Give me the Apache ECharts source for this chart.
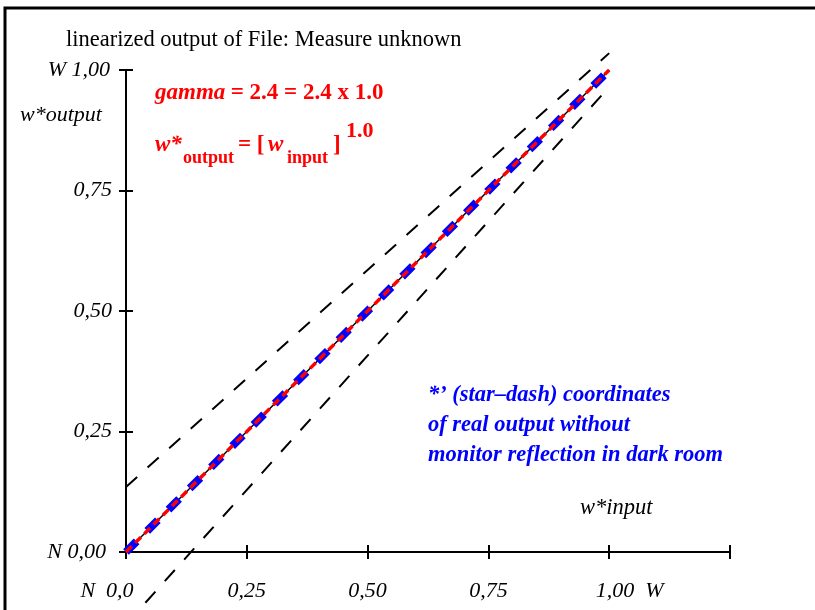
<!DOCTYPE html>
<html>
<head>
<meta charset="utf-8">
<script src="https://cdn.jsdelivr.net/npm/echarts@6/dist/echarts.min.js"></script>
<style>
    html, body { margin: 0; padding: 0; background: #fff; }
    #chart { width: 815px; height: 610px; }
</style>
</head>
<body>
<div id="chart"></div>
<script>
// data
const xTickLabels = ['N  0,0', '0,25', '0,50', '0,75', '1,00  W', '']
const yTickLabels = ['N 0,00', '0,25', '0,50', '0,75', 'W 1,00']
const idealLine = [[0, 0], [1, 1]]
const outputLine = [[0, 0], [1, 1]]
const measuredLine = [[0, 0], [1, 1]]
const upperLimit = [[0, 0.135], [1, 1.035]]
const lowerLimit = [[0, -0.15], [1, 0.965]]

const serif = 'Liberation Serif'

{
    let view = document.getElementById('chart')
    let chart = echarts.init(view)

    let tickIndex = v => Math.round(v / 0.25)
    let lbl = { fontFamily: serif, fontStyle: 'italic', fontSize: 22, color: '#000' }

    let option = {
        animation: false,
        backgroundColor: '#fff',
        grid: { left: 126, right: 85, top: 70, bottom: 58 },
        xAxis: [{
            type: 'value', min: 0, max: 1.25, interval: 0.25, position: 'bottom',
            axisLine: { lineStyle: { color: '#000', width: 2 } },
            axisTick: { length: 7, lineStyle: { color: '#000', width: 2 } },
            splitLine: { show: false },
            axisLabel: Object.assign({
                margin: 28,
                formatter: v => {
                    let i = tickIndex(v)
                    if (i === 0) return '{n|' + xTickLabels[i] + '}'
                    if (i === 4) return '{w|' + xTickLabels[i] + '}'
                    return xTickLabels[i]
                },
                rich: {
                    n: Object.assign({ padding: [0, 38, 0, 0] }, lbl),
                    w: Object.assign({ padding: [0, 0, 0, 41] }, lbl)
                }
            }, lbl)
        }, {
            // top-type axis pulled onto y = 0: its outward ticks give the upper half of each tick
            type: 'value', min: 0, max: 1.25, interval: 0.25, position: 'top',
            axisLine: { onZero: true, lineStyle: { color: '#000', width: 2 } },
            axisTick: { length: 7, lineStyle: { color: '#000', width: 2 } },
            axisLabel: { show: false },
            splitLine: { show: false }
        }],
        yAxis: [{
            type: 'value', min: 0, max: 1, interval: 0.25, position: 'left',
            axisLine: { lineStyle: { color: '#000', width: 2 } },
            axisTick: { length: 7, lineStyle: { color: '#000', width: 2 } },
            splitLine: { show: false },
            axisLabel: Object.assign({
                margin: 14,
                formatter: v => {
                    let i = tickIndex(v)
                    if (i === 0) return '{n|' + yTickLabels[i] + '}'
                    if (i === 4) return '{w|' + yTickLabels[i] + '}'
                    return yTickLabels[i]
                },
                rich: {
                    n: Object.assign({ padding: [0, 6, 0, 0] }, lbl),
                    w: Object.assign({ padding: [0, 2, 0, 0] }, lbl)
                }
            }, lbl)
        }, {
            type: 'value', min: 0, max: 1, interval: 0.25, position: 'right',
            axisLine: { onZero: true, lineStyle: { color: '#000', width: 2 } },
            axisTick: { length: 7, lineStyle: { color: '#000', width: 2 } },
            axisLabel: { show: false },
            splitLine: { show: false }
        }],
        series: [{
            type: 'line', data: upperLimit, showSymbol: false, clip: false,
            lineStyle: { color: '#000', width: 2, type: [15, 14] }
        }, {
            type: 'line', data: lowerLimit, showSymbol: false, clip: false,
            lineStyle: { color: '#000', width: 2, type: [15, 14] }
        }, {
            type: 'line', data: idealLine, showSymbol: false, xAxisIndex: 1, yAxisIndex: 1,
            lineStyle: { color: '#000', width: 1.5 }
        }, {
            type: 'line', data: measuredLine, showSymbol: false, z: 3,
            lineStyle: { color: '#0000ff', width: 8, type: [15, 15] }
        }, {
            type: 'line', data: outputLine, showSymbol: false, clip: false, z: 4,
            lineStyle: { color: '#ff0000', width: 3.5, type: [8, 5] }
        }],
        graphic: [
            { type: 'rect', shape: { x: 5, y: 8, width: 900, height: 700 }, style: { fill: 'none', stroke: '#000', lineWidth: 3 } },
            { type: 'text', x: 66, y: 40, style: { text: 'linearized output of File: Measure unknown', font: '22.5px "Liberation Serif"', fill: '#000', verticalAlign: 'middle' } },
            { type: 'text', x: 20, y: 115, style: { text: 'w*output', font: 'italic 22px "Liberation Serif"', fill: '#000', verticalAlign: 'middle' } },
            { type: 'text', x: 580, y: 508, style: { text: 'w*input', font: 'italic 22.5px "Liberation Serif"', fill: '#000', verticalAlign: 'middle' } },

            { type: 'text', x: 155, y: 93, style: { text: 'gamma', font: 'italic bold 23px "Liberation Serif"', fill: '#ff0000', verticalAlign: 'middle' } },
            { type: 'text', x: 225, y: 93, style: { text: ' = 2.4 = 2.4 x 1.0', font: 'bold 23px "Liberation Serif"', fill: '#ff0000', verticalAlign: 'middle' } },

            { type: 'text', x: 155, y: 145, style: { text: 'w*', font: 'italic bold 23px "Liberation Serif"', fill: '#ff0000', verticalAlign: 'middle' } },
            { type: 'text', x: 183, y: 158, style: { text: 'output', font: 'bold 18px "Liberation Serif"', fill: '#ff0000', verticalAlign: 'middle' } },
            { type: 'text', x: 238, y: 145, style: { text: '= [', font: 'bold 23px "Liberation Serif"', fill: '#ff0000', verticalAlign: 'middle' } },
            { type: 'text', x: 268, y: 145, style: { text: 'w', font: 'italic bold 23px "Liberation Serif"', fill: '#ff0000', verticalAlign: 'middle' } },
            { type: 'text', x: 287, y: 158, style: { text: 'input', font: 'bold 18px "Liberation Serif"', fill: '#ff0000', verticalAlign: 'middle' } },
            { type: 'text', x: 333, y: 145, style: { text: ']', font: 'bold 23px "Liberation Serif"', fill: '#ff0000', verticalAlign: 'middle' } },
            { type: 'text', x: 346, y: 131, style: { text: '1.0', font: 'bold 22px "Liberation Serif"', fill: '#ff0000', verticalAlign: 'middle' } },

            { type: 'text', x: 428, y: 395, style: { text: '*\u2019 (star\u2013dash) coordinates', font: 'italic bold 22.5px "Liberation Serif"', fill: '#0000ff', verticalAlign: 'middle' } },
            { type: 'text', x: 428, y: 425, style: { text: 'of real output without', font: 'italic bold 22.5px "Liberation Serif"', fill: '#0000ff', verticalAlign: 'middle' } },
            { type: 'text', x: 428, y: 455, style: { text: 'monitor reflection in dark room', font: 'italic bold 22.5px "Liberation Serif"', fill: '#0000ff', verticalAlign: 'middle' } }
        ]
    }
    chart.setOption(option)
}
</script>
</body>
</html>
